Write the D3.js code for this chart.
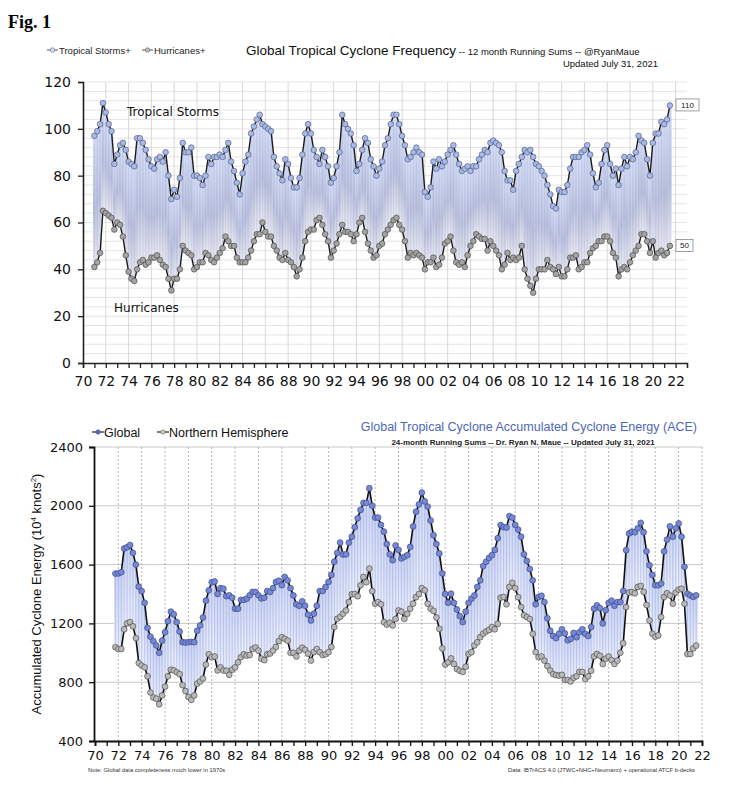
<!DOCTYPE html>
<html>
<head>
<meta charset="utf-8">
<script src="https://cdn.jsdelivr.net/npm/d3@7"></script>
<style>
  body { margin: 0; background: #fff; }
  svg { font-family: "Liberation Sans", Arial, sans-serif; }
</style>
</head>
<body>
<div id="main"></div>
<script>
// sampling: quarterly points
const tsStart = 1971;
const aceStart = 1971.75;
const step = 0.25;

// 12 month running sums (top panel), 1971.00 .. 2021.50
const tropicalStorms = [
  97, 99, 102, 111,  107, 102, 99, 85,  89, 93, 94, 91,  86, 85, 84, 96,
  96, 94, 91, 87,    84, 83, 87, 88,    86, 90, 80, 70,  74, 71, 79, 94,
  90, 90, 92, 80,    80, 79, 76, 80,    88, 85, 88, 88,  89, 88, 91, 94,
  86, 82, 77, 72,    81, 86, 89, 98,    101, 104, 106, 102,
  101, 100, 99, 88,  84, 81, 78, 87,    85, 79, 75, 75,  79, 89, 98, 102,
  98, 91, 88, 85,    91, 88, 84, 77,    79, 84, 90, 106, 102, 100, 98, 93,
  82, 85, 91, 96,    94, 87, 84, 80,    83, 86, 93, 96,  102, 106, 106, 102,
  97, 93, 87, 88,    90, 92, 90, 89,    73, 71, 75, 86,  83, 87, 84, 86,
  89, 91, 93, 89,    85, 82, 83, 84,    82, 84, 84, 87,  89, 91, 90, 94,
  95, 94, 93, 90,    82, 78, 78, 74,    82, 85, 88, 91,  90, 91, 88, 85,
  84, 82, 80, 76,    72, 67, 66, 74,    73, 73, 76, 83,  88, 88, 88, 90,
  91, 93, 89, 81,    75, 77, 85, 91,    93, 85, 80, 83,  76, 83, 88, 84,
  88, 87, 90, 97,    95, 94, 87, 80,    94, 98, 98, 103, 102, 104, 110
];
const hurricanes = [
  41, 43, 47, 65,  64, 63, 62, 57,  60, 59, 54, 46,  39, 36, 35, 40,
  43, 44, 42, 43,  45, 45, 46, 44,  42, 41, 36, 31,  36, 36, 40, 50,
  48, 47, 46, 40,  41, 43, 43, 47,  46, 44, 43, 45,  47, 49, 54, 52,
  50, 50, 45, 43,  43, 43, 45, 48,  52, 55, 55, 60,
  56, 54, 54, 50,  48, 45, 44, 47,  44, 43, 41, 37,  40, 45, 52, 56,
  57, 57, 61, 62,  59, 55, 52, 45,  48, 51, 55, 59,  56, 56, 55, 52,
  55, 60, 62, 56,  51, 48, 45, 46,  50, 51, 55, 57,  59, 61, 62, 59,
  57, 52, 45, 47,  46, 47, 46, 45,  40, 43, 43, 45,  41, 42, 45, 51,
  52, 54, 48, 43,  42, 43, 41, 46,  50, 52, 55, 54,  53, 53, 48, 52,
  50, 48, 46, 40,  42, 47, 44, 45,  44, 45, 50, 40,  36, 33, 30, 36,
  40, 40, 40, 44,  41, 40, 38, 41,  37, 37, 40, 45,  45, 46, 40, 41,
  43, 43, 47, 49,  50, 52, 52, 54,  54, 52, 47, 45,  37, 40, 41, 40,
  43, 46, 48, 50,  55, 55, 52, 47,  52, 45, 47, 48,  46, 47, 50
];

// 24 month running ACE (bottom panel), 1971.75 .. 2021.50
const aceGlobal = [
  1539,
  1540, 1548, 1710, 1718,  1733, 1680, 1600, 1450,  1420, 1340, 1170, 1110,
  1080, 1050, 1000, 1083,  1140, 1215, 1280, 1262,  1209, 1145, 1072, 1070,
  1072, 1075, 1072, 1150,  1186, 1240, 1355, 1425,  1480, 1485, 1400, 1440,
  1436, 1385, 1391, 1375,  1300, 1300, 1360, 1360,  1368, 1391, 1414, 1414,
  1391, 1370, 1375, 1420,  1414, 1440, 1482, 1490,  1460, 1516, 1493, 1440,
  1390, 1330, 1320, 1350,  1320, 1260, 1220, 1266,  1320, 1420, 1420, 1448,
  1482, 1530, 1620, 1680,  1750, 1668, 1670, 1750,  1790, 1855, 1915, 1972,
  2020, 2020, 2120, 2000,  1920, 1920, 1870, 1824,  1740, 1670, 1630, 1730,
  1700, 1642, 1653, 1664,  1720, 1860, 1960, 2010,  2090, 2030, 1995, 1900,
  1800, 1740, 1676, 1540,  1400, 1340, 1402, 1340,  1295, 1250, 1209, 1280,
  1340, 1368, 1390, 1448,  1493, 1590, 1619, 1645,  1664, 1700, 1780, 1869,
  1855, 1852, 1930, 1920,  1870, 1838, 1790, 1670,  1625, 1570, 1493, 1330,
  1380, 1388, 1345, 1235,  1150, 1115, 1100, 1130,  1160, 1132, 1085, 1095,
  1135, 1106, 1140, 1160,  1129, 1115, 1175, 1300,  1323, 1305, 1200, 1290,
  1340, 1355, 1320, 1345,  1345, 1420, 1698, 1812,  1824, 1820, 1847, 1884,
  1820, 1690, 1596, 1530,  1460, 1459, 1471, 1690,  1770, 1860, 1790, 1847,
  1880, 1790, 1585, 1402,  1390, 1380, 1391
];
const aceNH = [
  1038,
  1026, 1026, 1160, 1200,  1209, 1180, 1100, 930,  913, 901, 840, 730,
  696, 688, 650, 710,      770, 840, 885, 880,     867, 855, 780, 740,
  700, 680, 710, 790,      805, 825, 920, 990,     970, 975, 880, 901,
  880, 878, 850, 885,      901, 935, 970, 990,     981, 985, 1026, 1036,
  1015, 960, 950, 990,     995, 1015, 1040, 1080,  1106, 1095, 1083, 1000,
  1000, 975, 1015, 1035,   1020, 995, 947, 1005,   1026, 1004, 985, 990,
  1004, 1040, 1175, 1231,  1245, 1266, 1288, 1345, 1398, 1400, 1385, 1459,
  1516, 1480, 1573, 1420,  1334, 1345, 1330, 1209, 1192, 1205, 1186, 1230,
  1288, 1280, 1231, 1265,  1300, 1334, 1378, 1400, 1440, 1425, 1334, 1300,
  1285, 1240, 1163, 1030,  920, 935, 962, 924,     890, 878, 870, 905,
  992, 1004, 1050, 1072,   1106, 1130, 1145, 1155, 1175, 1160, 1197, 1375,
  1380, 1330, 1448, 1476,  1440, 1378, 1311, 1255, 1243, 1230, 1129, 1005,
  970, 975, 947, 910,      880, 855, 848, 845,     850, 815, 815, 805,
  830, 840, 870, 870,      821, 840, 878, 975,     992, 980, 924, 960,
  975, 950, 924, 947,      1000, 1065, 1311, 1410, 1414, 1405, 1448, 1455,
  1415, 1325, 1220, 1130,  1110, 1118, 1243, 1380, 1405, 1390, 1334, 1410,
  1430, 1436, 1334, 992,   992, 1030, 1049
];

const freqTicks = [0, 20, 40, 60, 80, 100, 120];
const aceTicks = [400, 800, 1200, 1600, 2000, 2400];
const yearLabels = [1970, 1972, 1974, 1976, 1978, 1980, 1982, 1984, 1986, 1988,
  1990, 1992, 1994, 1996, 1998, 2000, 2002, 2004, 2006, 2008, 2010, 2012,
  2014, 2016, 2018, 2020, 2022];
const yearMinor = d3.range(1970, 2023);
const yy = d => String(d % 100).padStart(2, '0');

const svg = d3.select('#main').append('svg')
  .attr('width', 731).attr('height', 785);

// gradients for the shaded band between the two curves
const defs = svg.append('defs');
const g1 = defs.append('linearGradient').attr('id', 'freqFill')
  .attr('x1', 0).attr('y1', 0).attr('x2', 0).attr('y2', 1);
[[0, '#d4ddf7'], [0.55, '#b9bfdc'], [1, '#e9e9ef']].forEach(s =>
  g1.append('stop').attr('offset', s[0]).attr('stop-color', s[1]));
const g2 = defs.append('linearGradient').attr('id', 'aceFill')
  .attr('x1', 0).attr('y1', 0).attr('x2', 0).attr('y2', 1);
[[0, '#c9d2f2'], [1, '#eaedf9']].forEach(s =>
  g2.append('stop').attr('offset', s[0]).attr('stop-color', s[1]));

svg.append('text').attr('x', 8).attr('y', 28)
  .style('font-family', '"Liberation Serif", "DejaVu Serif", serif').attr('font-weight', 'bold')
  .attr('font-size', 18).text('Fig. 1');

// ---------------- top panel : frequency ----------------
const xT = d3.scaleLinear().domain([1970, 2023]).range([83, 687]);
const yT = d3.scaleLinear().domain([0, 120]).range([363, 82]);

const freq = tropicalStorms.map((v, i) => ({ t: tsStart + i * step, ts: v, hu: hurricanes[i] }));

const topG = svg.append('g');

// grid
topG.append('g').selectAll('line').data(d3.range(4, 121, 4)).enter().append('line')
  .attr('x1', xT(1970)).attr('x2', xT(2023))
  .attr('y1', d => yT(d)).attr('y2', d => yT(d))
  .attr('stroke', '#dedede').attr('stroke-width', 0.8);
topG.append('g').selectAll('line').data(yearLabels.slice(1)).enter().append('line')
  .attr('x1', d => xT(d)).attr('x2', d => xT(d))
  .attr('y1', yT(0)).attr('y2', yT(120))
  .attr('stroke', '#cfcfcf').attr('stroke-width', 0.8);

// band between storms and hurricanes
const wT = xT(1970 + step) - xT(1970);
topG.append('g').selectAll('rect').data(freq).enter().append('rect')
  .attr('x', d => xT(d.t) - wT / 2).attr('width', wT + 0.3)
  .attr('y', d => yT(d.ts)).attr('height', d => yT(d.hu) - yT(d.ts))
  .attr('fill', 'url(#freqFill)');
topG.append('g').selectAll('line').data(freq).enter().append('line')
  .attr('x1', d => xT(d.t)).attr('x2', d => xT(d.t))
  .attr('y1', d => yT(d.ts)).attr('y2', d => yT(d.hu))
  .attr('stroke', '#8f9ac8').attr('stroke-opacity', 0.3).attr('stroke-width', 0.7);

// axes
const yAxT = topG.append('g').attr('transform', 'translate(' + xT(1970) + ',0)')
  .call(d3.axisLeft(yT).tickValues(freqTicks).tickSize(5).tickPadding(7));
const xAxT = topG.append('g').attr('transform', 'translate(0,' + yT(0) + ')')
  .call(d3.axisBottom(xT).tickValues(yearMinor).tickSize(5).tickPadding(8)
    .tickFormat(d => d % 2 === 0 ? yy(d) : ''));
[yAxT, xAxT].forEach(a => {
  a.select('.domain').attr('stroke', '#222').attr('stroke-width', 1.6);
  a.selectAll('.tick line').attr('stroke', '#222').attr('stroke-width', 1.3);
  a.selectAll('text').style('font-family', '"DejaVu Sans", sans-serif')
    .attr('font-size', 14).attr('fill', '#111');
});

// curves
const lineTS = d3.line().x(d => xT(d.t)).y(d => yT(d.ts));
const lineHU = d3.line().x(d => xT(d.t)).y(d => yT(d.hu));
topG.append('path').datum(freq).attr('d', lineHU)
  .attr('fill', 'none').attr('stroke', '#1b1b1b').attr('stroke-width', 1.4);
topG.append('path').datum(freq).attr('d', lineTS)
  .attr('fill', 'none').attr('stroke', '#1b1b1b').attr('stroke-width', 1.4);
topG.append('g').selectAll('circle').data(freq).enter().append('circle')
  .attr('cx', d => xT(d.t)).attr('cy', d => yT(d.hu)).attr('r', 2.8)
  .attr('fill', '#a4a4a4').attr('stroke', '#4d4d4d').attr('stroke-width', 0.7);
topG.append('g').selectAll('circle').data(freq).enter().append('circle')
  .attr('cx', d => xT(d.t)).attr('cy', d => yT(d.ts)).attr('r', 2.8)
  .attr('fill', '#a9b9ea').attr('stroke', '#56607e').attr('stroke-width', 0.7);

// labels inside panel
topG.append('text').attr('x', 127).attr('y', 116).attr('font-size', 13.5).attr('fill', '#111')
  .style('font-family', '"DejaVu Sans", sans-serif').attr('font-size', 12)
  .text('Tropical Storms');
topG.append('text').attr('x', 114).attr('y', 312).attr('fill', '#111')
  .style('font-family', '"DejaVu Sans", sans-serif').attr('font-size', 12)
  .text('Hurricanes');

// last value boxes
const lastF = freq[freq.length - 1];
[[lastF.ts, 23], [lastF.hu, 17]].forEach(b => {
  const cy = yT(b[0]) - 0.5;
  topG.append('rect').attr('x', 676).attr('y', cy - 6).attr('width', b[1]).attr('height', 12)
    .attr('fill', '#fff').attr('stroke', '#888').attr('stroke-width', 0.8);
  topG.append('text').attr('x', 676 + b[1] / 2).attr('y', cy + 3).attr('text-anchor', 'middle')
    .attr('font-size', 8).attr('fill', '#222').text(b[0]);
});

// legend + titles
function legendMark(g, x, y, fill, stroke) {
  g.append('line').attr('x1', x).attr('x2', x + 11).attr('y1', y).attr('y2', y)
    .attr('stroke', '#555').attr('stroke-width', 1);
  g.append('circle').attr('cx', x + 5.5).attr('cy', y).attr('r', 2.2)
    .attr('fill', fill).attr('stroke', stroke).attr('stroke-width', 0.7);
}
legendMark(svg, 47, 50, '#d6def6', '#6a7492');
svg.append('text').attr('x', 59).attr('y', 53.5).attr('font-size', 9.5).attr('fill', '#222')
  .text('Tropical Storms+');
legendMark(svg, 142, 50, '#c4c4c4', '#666');
svg.append('text').attr('x', 154).attr('y', 53.5).attr('font-size', 9.5).attr('fill', '#222')
  .text('Hurricanes+');

const title1 = svg.append('text').attr('x', 246).attr('y', 55).attr('fill', '#111');
title1.append('tspan').attr('font-size', 13.5).text('Global Tropical Cyclone Frequency');
title1.append('tspan').attr('font-size', 9.5).text(' -- 12 month Running Sums -- @RyanMaue');
svg.append('text').attr('x', 658).attr('y', 67).attr('text-anchor', 'end')
  .attr('font-size', 9.5).attr('fill', '#111').text('Updated July 31, 2021');

// ---------------- bottom panel : ACE ----------------
const xB = d3.scaleLinear().domain([1970, 2022]).range([95, 702]);
const yB = d3.scaleLinear().domain([400, 2400]).range([741, 447]);

const ace = aceGlobal.map((v, i) => ({ t: aceStart + i * step, gl: v, nh: aceNH[i] }));

const botG = svg.append('g');

botG.append('g').selectAll('line').data(aceTicks.slice(1)).enter().append('line')
  .attr('x1', xB(1970)).attr('x2', xB(2022))
  .attr('y1', d => yB(d)).attr('y2', d => yB(d))
  .attr('stroke', '#c9c9c9').attr('stroke-width', 1);
botG.append('g').selectAll('line').data(yearLabels.slice(1)).enter().append('line')
  .attr('x1', d => xB(d)).attr('x2', d => xB(d))
  .attr('y1', yB(400)).attr('y2', yB(2400))
  .attr('stroke', '#9a9a9a').attr('stroke-width', 0.7).attr('stroke-dasharray', '2,2');

const wB = xB(1970 + step) - xB(1970);
botG.append('g').selectAll('rect').data(ace).enter().append('rect')
  .attr('x', d => xB(d.t) - wB / 2).attr('width', wB + 0.3)
  .attr('y', d => yB(d.gl)).attr('height', d => Math.max(0, yB(d.nh) - yB(d.gl)))
  .attr('fill', 'url(#aceFill)');
botG.append('g').selectAll('line').data(ace).enter().append('line')
  .attr('x1', d => xB(d.t)).attr('x2', d => xB(d.t))
  .attr('y1', d => yB(d.gl)).attr('y2', d => yB(d.nh))
  .attr('stroke', '#8d9fe0').attr('stroke-opacity', 0.55).attr('stroke-width', 0.8);

const yAxB = botG.append('g').attr('transform', 'translate(' + (xB(1970) - 1) + ',0)')
  .call(d3.axisLeft(yB).tickValues(aceTicks).tickSize(5).tickPadding(6).tickFormat(d3.format('d')));
const xAxB = botG.append('g').attr('transform', 'translate(0,' + yB(400) + ')')
  .call(d3.axisBottom(xB).tickValues(yearMinor).tickSize(5).tickPadding(5)
    .tickFormat(d => d % 2 === 0 ? yy(d) : ''));
[yAxB, xAxB].forEach(a => {
  a.select('.domain').attr('stroke', '#111').attr('stroke-width', 1.8);
  a.selectAll('.tick line').attr('stroke', '#111').attr('stroke-width', 1.3);
  a.selectAll('text').style('font-family', '"DejaVu Sans", sans-serif')
    .attr('font-size', 13).attr('fill', '#111');
});

const lineGL = d3.line().x(d => xB(d.t)).y(d => yB(d.gl));
const lineNH = d3.line().x(d => xB(d.t)).y(d => yB(d.nh));
botG.append('path').datum(ace).attr('d', lineNH)
  .attr('fill', 'none').attr('stroke', '#111').attr('stroke-width', 1.6);
botG.append('path').datum(ace).attr('d', lineGL)
  .attr('fill', 'none').attr('stroke', '#111').attr('stroke-width', 1.6);
botG.append('g').selectAll('circle').data(ace).enter().append('circle')
  .attr('cx', d => xB(d.t)).attr('cy', d => yB(d.nh)).attr('r', 2.9)
  .attr('fill', '#b9b9b9').attr('stroke', '#505050').attr('stroke-width', 0.7);
botG.append('g').selectAll('circle').data(ace).enter().append('circle')
  .attr('cx', d => xB(d.t)).attr('cy', d => yB(d.gl)).attr('r', 2.9)
  .attr('fill', '#7688d6').attr('stroke', '#3c4a86').attr('stroke-width', 0.7);

// axis title
const yTitle = svg.append('text')
  .attr('transform', 'translate(41,' + 594 + ') rotate(-90)')
  .attr('text-anchor', 'middle').attr('font-size', 13).attr('fill', '#111');
yTitle.append('tspan').text('Accumulated Cyclone Energy (10');
yTitle.append('tspan').attr('font-size', 8).attr('dy', -5).text('4');
yTitle.append('tspan').attr('dy', 5).text(' knots');
yTitle.append('tspan').attr('font-size', 8).attr('dy', -5).text('2');
yTitle.append('tspan').attr('dy', 5).text(')');

// legend + titles
function legendDot(x, y, fill, stroke) {
  svg.append('line').attr('x1', x).attr('x2', x + 12).attr('y1', y).attr('y2', y)
    .attr('stroke', '#333').attr('stroke-width', 1.3);
  svg.append('circle').attr('cx', x + 6).attr('cy', y).attr('r', 2.2)
    .attr('fill', fill).attr('stroke', stroke).attr('stroke-width', 0.6);
}
legendDot(92, 432, '#5a6cc0', '#3c4a86');
svg.append('text').attr('x', 104).attr('y', 436.5).attr('font-size', 12.5).attr('fill', '#111')
  .text('Global');
legendDot(157, 432, '#d0d0d0', '#666');
svg.append('text').attr('x', 169).attr('y', 436.5).attr('font-size', 12.5).attr('fill', '#111')
  .text('Northern Hemisphere');

svg.append('text').attr('x', 697).attr('y', 431).attr('text-anchor', 'end')
  .attr('font-size', 12.5).attr('fill', '#4d66bb')
  .text('Global Tropical Cyclone Accumulated Cyclone Energy (ACE)');
svg.append('text').attr('x', 523).attr('y', 444.5).attr('text-anchor', 'middle')
  .attr('font-size', 8).attr('font-weight', 'bold').attr('fill', '#222')
  .text('24-month Running Sums -- Dr. Ryan N. Maue -- Updated July 31, 2021');

svg.append('text').attr('x', 88).attr('y', 772).attr('font-size', 5.8).attr('fill', '#333')
  .text('Note:  Global data completeness much lower in 1970s');
svg.append('text').attr('x', 695).attr('y', 772).attr('text-anchor', 'end')
  .attr('font-size', 5.8).attr('fill', '#333')
  .text('Data: IBTrACS 4.0 (JTWC+NHC+Neumann) + operational ATCF b-decks');
</script>
</body>
</html>
